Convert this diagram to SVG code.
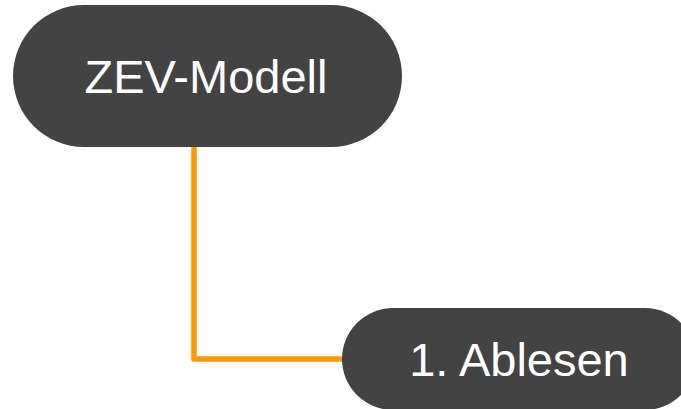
<svg xmlns="http://www.w3.org/2000/svg" width="681" height="409" viewBox="0 0 681 409">
<style>
.node{fill:#434343}
.label{fill:#ffffff;font-family:"Liberation Sans",Arial,sans-serif;font-size:47px;text-anchor:middle}
.conn{fill:none;stroke:#ff9900;stroke-width:5.5;stroke-linejoin:round;stroke-linecap:round}
</style>
<rect width="681" height="409" fill="#ffffff"/>
<g id="connectors">
<path class="conn" d="M194,147 L194,359 L344,359"/>
</g>
<g id="node-zev">
<rect class="node" x="13" y="5" width="389" height="142" rx="71" ry="71"/>
<text class="label" x="206" y="92.5">ZEV-Modell</text>
</g>
<g id="node-ablesen">
<rect class="node" x="342" y="308" width="354" height="102" rx="51" ry="51"/>
<text class="label" x="519" y="376">1. Ablesen</text>
</g>
</svg>
